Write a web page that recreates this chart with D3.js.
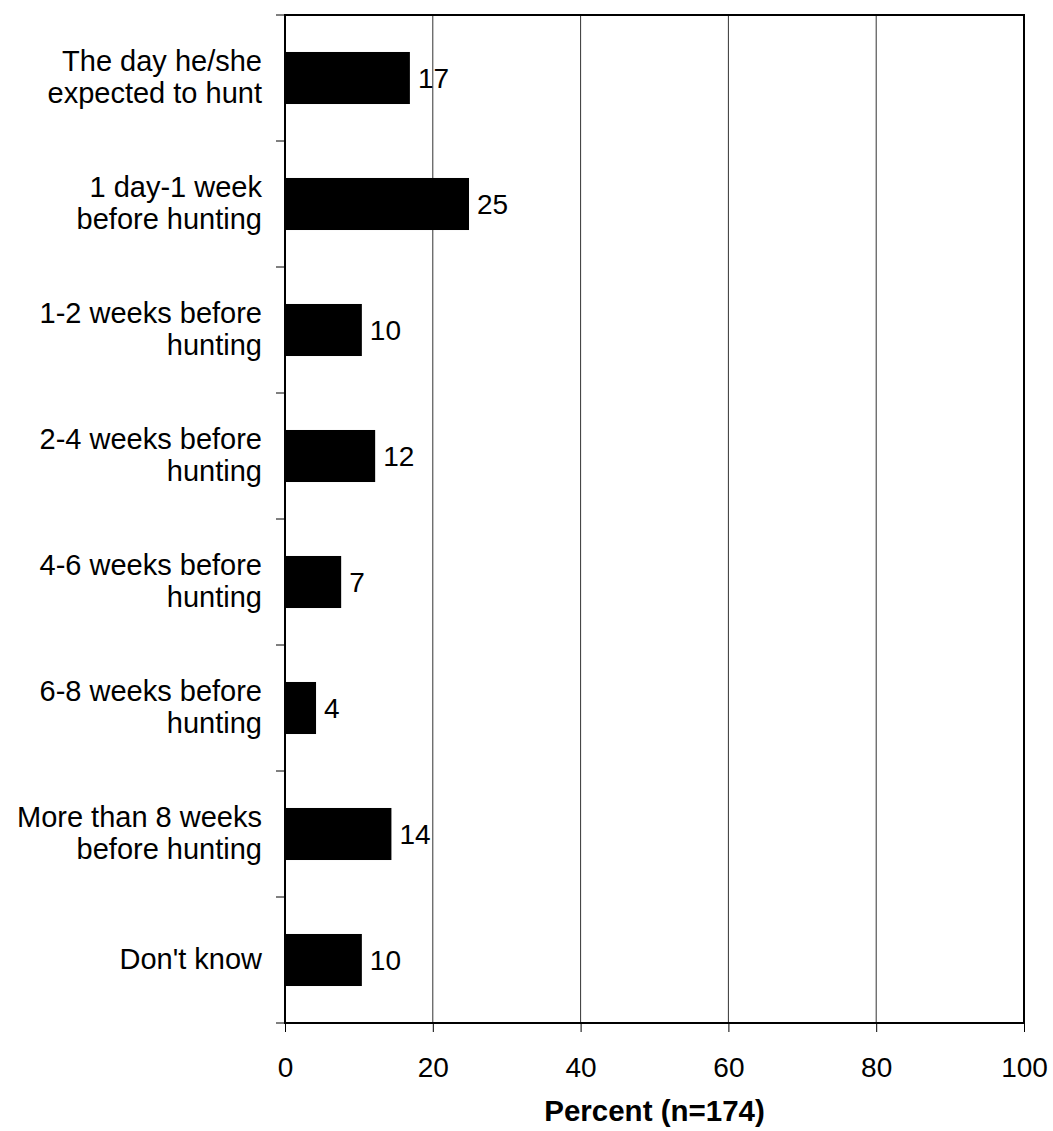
<!DOCTYPE html>
<html><head><meta charset="utf-8">
<script src="https://cdn.jsdelivr.net/npm/d3@7"></script>
<style>body{margin:0;background:#fff;} text{font-family:Arial,"Liberation Sans",sans-serif;}</style>
</head><body>
<svg id="c" width="1053" height="1131"></svg>
<script>
const categories = [
  ["The day he/she", "expected to hunt"],
  ["1 day-1 week", "before hunting"],
  ["1-2 weeks before", "hunting"],
  ["2-4 weeks before", "hunting"],
  ["4-6 weeks before", "hunting"],
  ["6-8 weeks before", "hunting"],
  ["More than 8 weeks", "before hunting"],
  ["Don't know"]
];
const values = [16.9, 24.9, 10.4, 12.2, 7.6, 4.2, 14.4, 10.4];
const valueLabels = ["17", "25", "10", "12", "7", "4", "14", "10"];
const xTicks = [0, 20, 40, 60, 80, 100];
const xTitle = "Percent (n=174)";

const svg = d3.select("#c");
const L = 285, R = 1024, T = 15, B = 1023;
const x = d3.scaleLinear().domain([0, 100]).range([L, R]);
const y = d3.scaleBand().domain(d3.range(categories.length)).range([T, B]).paddingInner(0.587).paddingOuter(0.2935);
const yb = d3.scaleBand().domain(d3.range(categories.length)).range([T, B]);

// gridlines
svg.append("g").selectAll("line").data(xTicks.slice(1, -1)).join("line")
  .attr("x1", d => x(d)).attr("x2", d => x(d)).attr("y1", T).attr("y2", B)
  .attr("stroke", "#333").attr("stroke-width", 1);

// bars
svg.append("g").selectAll("rect").data(values).join("rect")
  .attr("x", x(0)).attr("y", (d, i) => y(i)).attr("width", d => x(d) - x(0)).attr("height", y.bandwidth())
  .attr("fill", "#000");

// value labels
svg.append("g").selectAll("text").data(values).join("text")
  .attr("x", d => x(d) + 8).attr("y", (d, i) => y(i) + y.bandwidth() / 2)
  .attr("dy", "0.35em").attr("font-size", 28).text((d, i) => valueLabels[i]);

// border
svg.append("rect").attr("x", L).attr("y", T).attr("width", R - L).attr("height", B - T)
  .attr("fill", "none").attr("stroke", "#000").attr("stroke-width", 2);

// x axis
const xa = svg.append("g").attr("transform", `translate(0,${B})`)
  .call(d3.axisBottom(x).tickValues(xTicks).tickSize(9).tickPadding(25));
xa.select(".domain").remove();
xa.selectAll("line").attr("stroke", "#000").attr("stroke-width", 1);
xa.selectAll("text").attr("font-size", 28).attr("fill", "#000").style("font-family", "Arial, 'Liberation Sans', sans-serif");

// y ticks at band boundaries
const bounds = d3.range(categories.length + 1).map(i => i < categories.length ? yb(i) : B);
svg.append("g").selectAll("line").data(bounds).join("line")
  .attr("x1", L - 9).attr("x2", L).attr("y1", d => d).attr("y2", d => d)
  .attr("stroke", "#000").attr("stroke-width", 1);

// category labels
const cl = svg.append("g").selectAll("text").data(categories).join("text")
  .attr("text-anchor", "end").attr("font-size", 29)
  .attr("x", 262).attr("y", (d, i) => yb(i) + yb.bandwidth() / 2);
cl.each(function(d) {
  const t = d3.select(this);
  const n = d.length, lh = 32;
  d.forEach((s, j) => {
    t.append("tspan").attr("x", 262).attr("dy", j === 0 ? ((-(n - 1) * lh / 2) + 9) : lh).text(s);
  });
});

// title
svg.append("text").attr("x", (L + R) / 2).attr("y", 1121).attr("text-anchor", "middle")
  .attr("font-size", 29.5).attr("font-weight", "bold").text(xTitle);
</script>
</body></html>
